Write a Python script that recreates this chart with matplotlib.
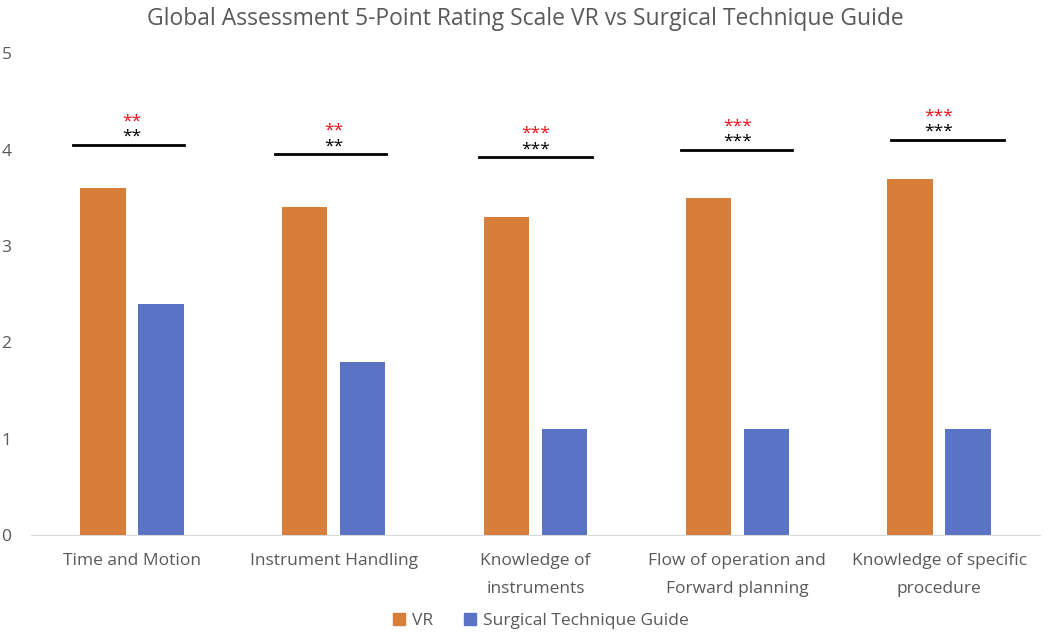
import numpy as np
import matplotlib.pyplot as plt
from matplotlib.patches import Patch

categories = ["Time and Motion", "Instrument Handling", "Knowledge of\ninstruments",
              "Flow of operation and\nForward planning", "Knowledge of specific\nprocedure"]
vr = [3.6, 3.4, 3.3, 3.5, 3.7]
stg = [2.4, 1.8, 1.1, 1.1, 1.1]
sig_height = [4.05, 3.95, 3.92, 4.0, 4.1]
sig_stars = ["**", "**", "***", "***", "***"]
sig_left = [-0.29, -0.29, -0.28, -0.28, -0.24]
sig_right = [0.26, 0.26, 0.28, 0.27, 0.32]

c_vr = "#D67E3A"
c_stg = "#5A73C4"
gray = "#595959"

plt.rcParams['font.family'] = ['Open Sans', 'DejaVu Sans']

fig = plt.figure(figsize=(10.5, 6.34), dpi=100)
ax = fig.add_axes([0.0295, 0.156, 0.961, 0.76])

x = np.arange(len(categories))
w = 0.225
ax.bar(x - 0.144, vr, w, color=c_vr)
ax.bar(x + 0.144, stg, w, color=c_stg)

for i in range(len(categories)):
    ax.plot([x[i] + sig_left[i], x[i] + sig_right[i]], [sig_height[i]] * 2, color="black", lw=2)
    ax.text(x[i], sig_height[i] + 0.0, sig_stars[i], ha="center", va="bottom", fontsize=12.5, color="black")
    ax.text(x[i], sig_height[i] + 0.16, sig_stars[i], ha="center", va="bottom", fontsize=12.5, color="#E8101A")

ax.set_ylim(0, 5)
ax.set_xlim(-0.5, 4.5)
ax.set_yticks([0, 1, 2, 3, 4, 5])
ax.set_xticks(x)
ax.set_xticklabels(categories, fontsize=12.5, color=gray, linespacing=2.0)
ax.tick_params(axis="y", length=0, pad=14, labelsize=12.5, labelcolor=gray)
ax.tick_params(axis="x", length=0, pad=13)
for s in ["top", "right", "left"]:
    ax.spines[s].set_visible(False)
ax.spines["bottom"].set_color("#D9D9D9")

fig.text(0.5, 0.97, "Global Assessment 5-Point Rating Scale VR vs Surgical Technique Guide",
         ha="center", va="center", fontsize=16.5, color=gray)

handles = [Patch(color=c_vr, label="VR"), Patch(color=c_stg, label="Surgical Technique Guide")]
fig.legend(handles=handles, loc="center", bbox_to_anchor=(0.515, 0.02), ncol=2, frameon=False,
           fontsize=12.5, labelcolor=gray, handlelength=0.7, handleheight=0.7, handletextpad=0.4,
           columnspacing=1.8)

fig.savefig("out.png", dpi=100)
